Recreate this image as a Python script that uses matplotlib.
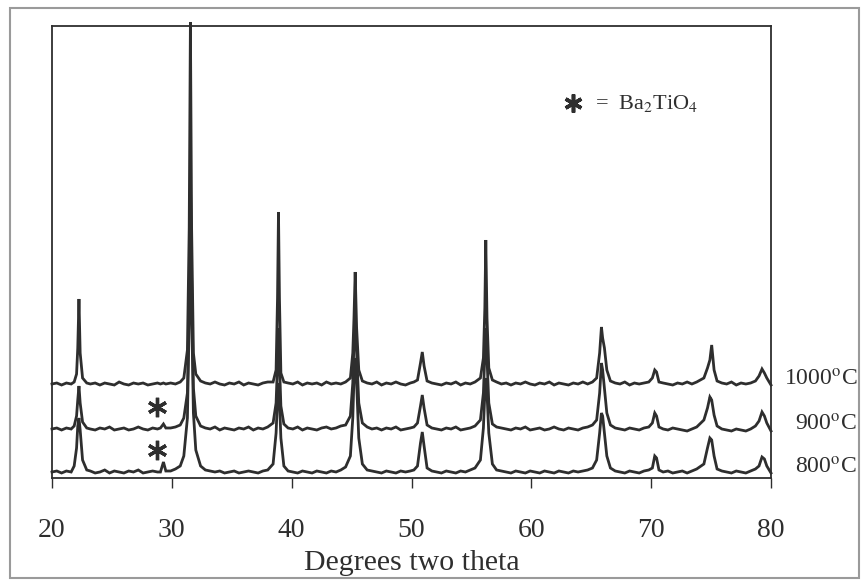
import matplotlib
matplotlib.use("Agg")
import matplotlib.pyplot as plt
from matplotlib.patches import Rectangle
from matplotlib.transforms import blended_transform_factory

plt.rcParams['font.family'] = ['Liberation Serif', 'DejaVu Serif']
plt.rcParams['mathtext.fontset'] = 'stix'

# ---------------- data ----------------
# 2-theta sample points, grouped by stretch (baseline / peak)
two_theta_segments = [
    [20.0, 20.4, 20.8, 21.2, 21.6],
    [21.85, 22.05, 22.15, 22.25, 22.35, 22.55, 22.9],
    [23.2, 23.6, 24.0, 24.4, 24.8, 25.2, 25.6, 26.0, 26.4, 26.8, 27.2, 27.6, 28.0, 28.4, 28.8],
    [29.05, 29.3, 29.5],
    [29.9, 30.3, 30.7],
    [31.0, 31.3, 31.45, 31.55, 31.65, 31.8, 32.0, 32.4],
    [32.8, 33.2, 33.6, 34.0, 34.4, 34.8, 35.2, 35.6, 36.0, 36.4, 36.8, 37.2, 37.6, 38.0],
    [38.45, 38.7, 38.82, 38.9, 38.98, 39.1, 39.35],
    [39.7, 40.1, 40.5, 40.9, 41.3, 41.7, 42.1, 42.5, 42.9, 43.3, 43.7, 44.1, 44.5],
    [44.9, 45.1, 45.2, 45.3, 45.42, 45.6, 45.9],
    [46.3, 46.7, 47.1, 47.5, 47.9, 48.3, 48.7, 49.1, 49.5, 49.9, 50.2],
    [50.5, 50.75, 50.9, 51.05, 51.3],
    [51.7, 52.1, 52.5, 52.9, 53.3, 53.7, 54.1, 54.5, 54.9, 55.3],
    [55.75, 56.0, 56.12, 56.2, 56.3, 56.45, 56.75],
    [57.1, 57.5, 57.9, 58.3, 58.7, 59.1, 59.5, 59.9, 60.3, 60.7, 61.1, 61.5, 61.9, 62.3,
     62.7, 63.1, 63.5, 63.9, 64.3, 64.7, 65.1],
    [65.45, 65.7, 65.85, 65.95, 66.1, 66.3, 66.6],
    [67.0, 67.4, 67.8, 68.2, 68.6, 69.0, 69.4, 69.8],
    [70.1, 70.3, 70.45, 70.65],
    [71.0, 71.4, 71.8, 72.2, 72.6, 73.0, 73.4, 73.8],
    [74.4, 74.7, 74.9, 75.05, 75.25, 75.5],
    [75.9, 76.3, 76.7, 77.1, 77.5, 77.9, 78.3, 78.7],
    [79.0, 79.25, 79.45, 79.65, 80.0],
]

intensity_1000_segments = [
    [94, 95, 93, 95, 94],
    [96, 104, 130, 179, 125, 100, 95],
    [94, 95, 93, 95, 94, 93, 96, 94, 93, 95, 94, 95, 93, 94, 95],
    [94, 95, 94],
    [95, 94, 96],
    [100, 128, 250, 456, 250, 125, 104, 97],
    [95, 94, 96, 94, 93, 95, 94, 96, 93, 95, 94, 93, 95, 96],
    [96, 108, 180, 266, 180, 105, 96],
    [95, 94, 96, 93, 95, 94, 95, 93, 96, 94, 95, 94, 96],
    [100, 125, 160, 206, 150, 108, 97],
    [95, 94, 96, 93, 95, 94, 96, 94, 93, 95, 96],
    [98, 115, 126, 112, 97],
    [95, 94, 93, 95, 94, 96, 93, 95, 94, 96],
    [100, 120, 170, 238, 160, 110, 98],
    [96, 94, 95, 93, 95, 94, 96, 94, 93, 95, 94, 96, 93, 95, 94, 93, 95, 94, 96, 94, 96],
    [100, 125, 151, 140, 130, 108, 97],
    [95, 94, 96, 93, 95, 94, 95, 96],
    [100, 108, 106, 96],
    [95, 94, 93, 95, 94, 96, 94, 96],
    [100, 110, 118, 133, 108, 97],
    [95, 94, 96, 93, 95, 94, 95, 97],
    [102, 109, 105, 100, 93],
]

intensity_900_segments = [
    [49, 50, 48, 50, 49],
    [52, 62, 78, 92, 75, 56, 50],
    [49, 48, 50, 49, 51, 48, 49, 50, 48, 49, 51, 49, 48, 50, 49],
    [50, 54, 50],
    [50, 51, 53],
    [60, 85, 180, 300, 200, 90, 62, 52],
    [50, 49, 51, 48, 50, 49, 48, 50, 49, 51, 48, 50, 49, 51],
    [55, 75, 115, 150, 115, 72, 54],
    [50, 49, 51, 48, 50, 49, 48, 50, 51, 49, 50, 52, 53],
    [62, 95, 135, 160, 125, 75, 55],
    [51, 49, 50, 48, 50, 49, 51, 48, 49, 50, 51],
    [55, 72, 83, 70, 53],
    [50, 49, 48, 50, 49, 51, 48, 49, 50, 52],
    [58, 85, 125, 150, 120, 75, 54],
    [51, 50, 49, 48, 50, 49, 51, 48, 49, 50, 48, 49, 51, 49, 48, 50, 49, 48, 50, 51, 53],
    [58, 85, 115, 108, 90, 65, 53],
    [50, 49, 48, 50, 49, 48, 50, 51],
    [55, 65, 62, 51],
    [49, 48, 50, 49, 48, 47, 49, 51],
    [58, 70, 81, 78, 63, 52],
    [49, 48, 47, 49, 48, 47, 49, 52],
    [57, 66, 62, 55, 47],
]

intensity_800_segments = [
    [6, 7, 5, 7, 6],
    [12, 30, 52, 60, 48, 18, 8],
    [7, 5, 6, 8, 5, 7, 6, 5, 7, 6, 8, 5, 6, 7, 6],
    [6, 16, 7],
    [7, 9, 12],
    [22, 60, 160, 250, 170, 65, 28, 12],
    [8, 7, 6, 7, 5, 6, 7, 5, 6, 7, 6, 5, 7, 8],
    [14, 45, 80, 95, 78, 40, 12],
    [7, 6, 5, 7, 6, 5, 7, 6, 5, 7, 6, 8, 11],
    [22, 60, 100, 120, 95, 40, 14],
    [8, 7, 6, 5, 7, 6, 5, 7, 6, 7, 8],
    [12, 35, 46, 32, 10],
    [7, 6, 5, 7, 6, 5, 7, 6, 8, 10],
    [18, 50, 85, 100, 85, 45, 14],
    [8, 7, 6, 5, 7, 6, 5, 7, 6, 5, 7, 6, 5, 7, 6, 5, 7, 6, 7, 8, 10],
    [18, 45, 65, 62, 45, 22, 10],
    [7, 6, 5, 7, 6, 5, 7, 8],
    [10, 22, 20, 8],
    [6, 7, 5, 6, 7, 5, 7, 9],
    [14, 30, 40, 38, 22, 9],
    [7, 6, 5, 7, 6, 5, 7, 9],
    [12, 21, 19, 12, 5],
]

temp_labels = ["1000$^{\\mathrm{o}}$C", "900$^{\\mathrm{o}}$C", "800$^{\\mathrm{o}}$C"]
label_levels = [98, 53, 10]

impurity_theta = [28.75, 28.75]
impurity_level = [71, 28]

legend_theta = 63.5
legend_level = 375

x_ticks = [20, 30, 40, 50, 60, 70, 80]


def flatten(segs):
    return [v for seg in segs for v in seg]


two_theta = flatten(two_theta_segments)
series = [flatten(intensity_1000_segments),
          flatten(intensity_900_segments),
          flatten(intensity_800_segments)]
for s in series:
    assert len(s) == len(two_theta)

# ---------------- figure ----------------
W, H = 864, 586
fig = plt.figure(figsize=(W / 100, H / 100), dpi=100)
ax = fig.add_axes([52 / W, 1 - 478 / H, (771 - 52) / W, (478 - 26) / H])

ink = '#2e2e2e'
for s in series:
    ax.plot(two_theta, s, color=ink, lw=2.0, solid_joinstyle='miter', clip_on=False, zorder=3)

ax.set_xlim(20, 80)
ax.set_ylim(0, 452)

# asterisks marking Ba2TiO4
ax.plot(impurity_theta, impurity_level, linestyle='none', marker=(6, 2, 0),
        markersize=14, mew=2.4, color=ink)

# legend
ax.plot([legend_theta], [legend_level], marker=(6, 2, 0), markersize=13, mew=2.6, color=ink)
ax.text(legend_theta + 1.8, legend_level, "=  Ba$_2$TiO$_4$", fontsize=16,
        va='center', ha='left', color=ink)

# temperature labels on the right
tr = blended_transform_factory(fig.transFigure, ax.transData)
for lab, lev in zip(temp_labels, label_levels):
    ax.text(857 / W, lev, lab, transform=tr, ha='right', va='center',
            fontsize=17, color=ink, clip_on=False)

ax.set_xticks(x_ticks)
ax.set_yticks([])
ax.tick_params(axis='x', direction='out', length=7, width=1.0, colors=ink,
               labelsize=20, pad=22)
for sp in ax.spines.values():
    sp.set_color(ink)
    sp.set_linewidth(1.3)
ax.set_xlabel("Degrees two theta", fontsize=21.5, color=ink, labelpad=5)

# outer scan border
fig.patches.append(Rectangle((10 / W, 8 / H), 849 / W, 570 / H, transform=fig.transFigure,
                             fill=False, edgecolor='#9a9a9a', lw=1.5))

fig.savefig("out.png", dpi=100)
